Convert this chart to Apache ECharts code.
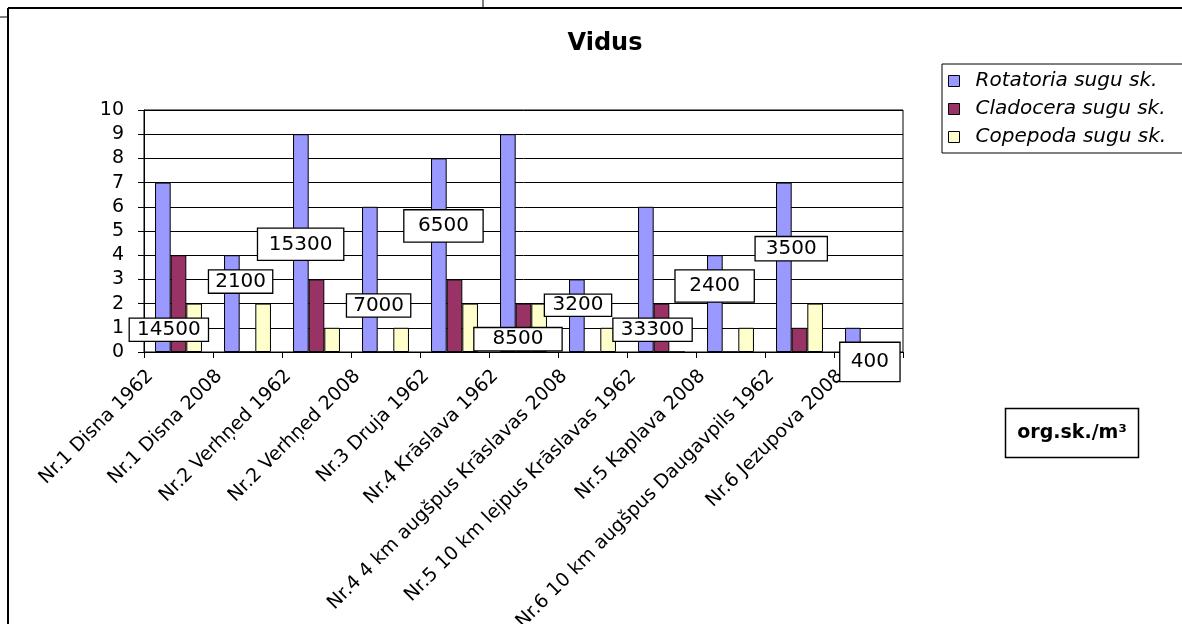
<!DOCTYPE html>
<html>
<head>
<meta charset="utf-8">
<script src="https://cdn.jsdelivr.net/npm/echarts@6/dist/echarts.min.js"></script>
<style>
html,body{margin:0;padding:0;background:#fff;}
#chart{width:1182px;height:624px;}
</style>
</head>
<body>
<div id="chart"></div>
<script>
// ---- data ----
var titleText = 'Vidus';
var categories = [
  'Nr.1 Disna 1962',
  'Nr.1 Disna 2008',
  'Nr.2 Verhņed 1962',
  'Nr.2 Verhņed 2008',
  'Nr.3 Druja 1962',
  'Nr.4 Krāslava 1962',
  'Nr.4 4 km augšpus Krāslavas 2008',
  'Nr.5 10 km lejpus Krāslavas 1962',
  'Nr.5 Kaplava 2008',
  'Nr.6 10 km augšpus Daugavpils 1962',
  'Nr.6 Jezupova 2008'
];
var seriesNames = ['Rotatoria sugu sk.', 'Cladocera sugu sk.', 'Copepoda sugu sk.'];
var rotatoria = [7, 4, 9, 6, 8, 9, 3, 6, 4, 7, 1];
var cladocera = [4, 0, 3, 0, 3, 2, 0, 2, 0, 1, 0];
var copepoda  = [2, 2, 1, 1, 2, 2, 1, 0, 1, 2, 0];
// density labels (org.sk./m3) and where their boxes sit, in data units
var densityValues = [14500, 2100, 15300, 7000, 6500, 8500, 3200, 33300, 2400, 3500, 400];
var densityX = [-0.14, 0.90, 1.77, 2.90, 3.84, 4.92, 5.79, 6.87, 7.77, 8.88, 10.02];
var densityY = [0.92, 2.91, 4.45, 1.92, 5.21, 0.53, 1.93, 0.92, 2.73, 4.27, -0.41];
var unitText = 'org.sk./m³';
var yTicks = [0, 10, 1]; // min, max, interval

// ---- layout / style (not data) ----
var boxW = [80, 65, 87, 65, 80, 89, 68, 80, 80, 73, 61];
var boxH = [24, 24, 33, 24, 33, 24, 23, 24, 33, 25, 40];
var colors = ['#9999FF', '#993366', '#FFFFCC'];
var FONT = 'DejaVu Sans';

var chart = echarts.init(document.getElementById('chart'), null, {renderer: 'canvas'});

var labelData = densityValues.map(function (v, i) {
  return {
    value: [densityX[i], densityY[i], v],
    label: { width: boxW[i] - 2, height: boxH[i] - 2, lineHeight: boxH[i] - 2 }
  };
});

function barSeries(name, data, color) {
  return {
    name: name, type: 'bar', data: data,
    barGap: 0, barCategoryGap: '32%',
    itemStyle: { color: color, borderColor: '#000', borderWidth: 1 },
    emphasis: { disabled: true },
    animation: false
  };
}

var option = {
  animation: false,
  backgroundColor: '#fff',
  textStyle: { fontFamily: FONT },
  grid: {
    left: 144, right: 279, top: 110, bottom: 272,
    outerBoundsMode: 'none', containLabel: false,
    show: true, borderColor: '#000', borderWidth: 1, backgroundColor: 'transparent'
  },
  legend: {
    data: seriesNames,
    orient: 'vertical',
    left: 942, top: 64,
    padding: [7, 60, 6, 6],
    itemGap: 8,
    itemWidth: 11, itemHeight: 11,
    icon: 'rect',
    borderColor: '#000', borderWidth: 1,
    backgroundColor: '#fff',
    itemStyle: { borderColor: '#000', borderWidth: 1 },
    textStyle: {
      fontFamily: FONT, fontSize: 20, fontStyle: 'italic', color: '#000',
      lineHeight: 20, padding: [0, 0, 0, 11]
    },
    selectedMode: false
  },
  xAxis: [
    {
      type: 'category',
      data: categories,
      boundaryGap: true,
      axisLine: { show: true, onZero: false, lineStyle: { color: '#000', width: 1 } },
      axisTick: { show: true, length: 6, interval: 0, lineStyle: { color: '#000' } },
      axisLabel: {
        interval: 0, rotate: 45, margin: -7,
        fontFamily: FONT, fontSize: 19, color: '#000',
        padding: [0, 40, 0, 0]
      },
      splitLine: { show: false }
    },
    {
      type: 'value', min: -0.5, max: 10.5, show: false,
      axisLine: { show: false }, axisTick: { show: false }, axisLabel: { show: false },
      splitLine: { show: false }
    }
  ],
  yAxis: {
    type: 'value', min: yTicks[0], max: yTicks[1], interval: yTicks[2],
    axisLine: { show: true, onZero: false, lineStyle: { color: '#000', width: 1 } },
    axisTick: { show: true, length: 6, lineStyle: { color: '#000' } },
    axisLabel: { margin: 20, fontFamily: FONT, fontSize: 19, color: '#000' },
    splitLine: { show: true, lineStyle: { color: '#000', width: 1 } }
  },
  series: [
    barSeries(seriesNames[0], rotatoria, colors[0]),
    barSeries(seriesNames[1], cladocera, colors[1]),
    barSeries(seriesNames[2], copepoda, colors[2]),
    {
      name: 'density', type: 'scatter', xAxisIndex: 1, yAxisIndex: 0,
      data: labelData, symbolSize: 0, clip: false, z: 10,
      silent: true,
      itemStyle: { opacity: 1 },
      label: {
        show: true, position: 'inside',
        formatter: function (p) { return String(p.value[2]); },
        fontFamily: FONT, fontSize: 20, color: '#000', opacity: 1,
        backgroundColor: '#fff', borderColor: '#000', borderWidth: 1.3,
        align: 'center', verticalAlign: 'middle'
      },
      emphasis: { disabled: true }
    }
  ],
  graphic: [
    { type: 'text', x: 605, y: 44,
      style: { text: titleText, font: 'bold 24px "DejaVu Sans"', fill: '#000', align: 'center', verticalAlign: 'middle' } },
    // outer frame lines
    { type: 'line', shape: { x1: 8, y1: 8, x2: 1182, y2: 8 }, style: { stroke: '#000', lineWidth: 2 } },
    { type: 'line', shape: { x1: 8, y1: 8, x2: 8, y2: 624 }, style: { stroke: '#000', lineWidth: 2 } },
    { type: 'line', shape: { x1: 483, y1: 0, x2: 483, y2: 8 }, style: { stroke: '#000', lineWidth: 1 } },
    { type: 'line', shape: { x1: 0, y1: 17, x2: 8, y2: 17 }, style: { stroke: '#000', lineWidth: 1 } },
    // unit box
    { type: 'rect', shape: { x: 1005.5, y: 408.5, width: 133, height: 49 },
      style: { fill: '#fff', stroke: '#000', lineWidth: 1.5 } },
    { type: 'text', x: 1072, y: 433,
      style: { text: unitText, font: 'bold 19px "DejaVu Sans"', fill: '#000', align: 'center', verticalAlign: 'middle' } }
  ]
};

chart.setOption(option);
</script>
</body>
</html>
